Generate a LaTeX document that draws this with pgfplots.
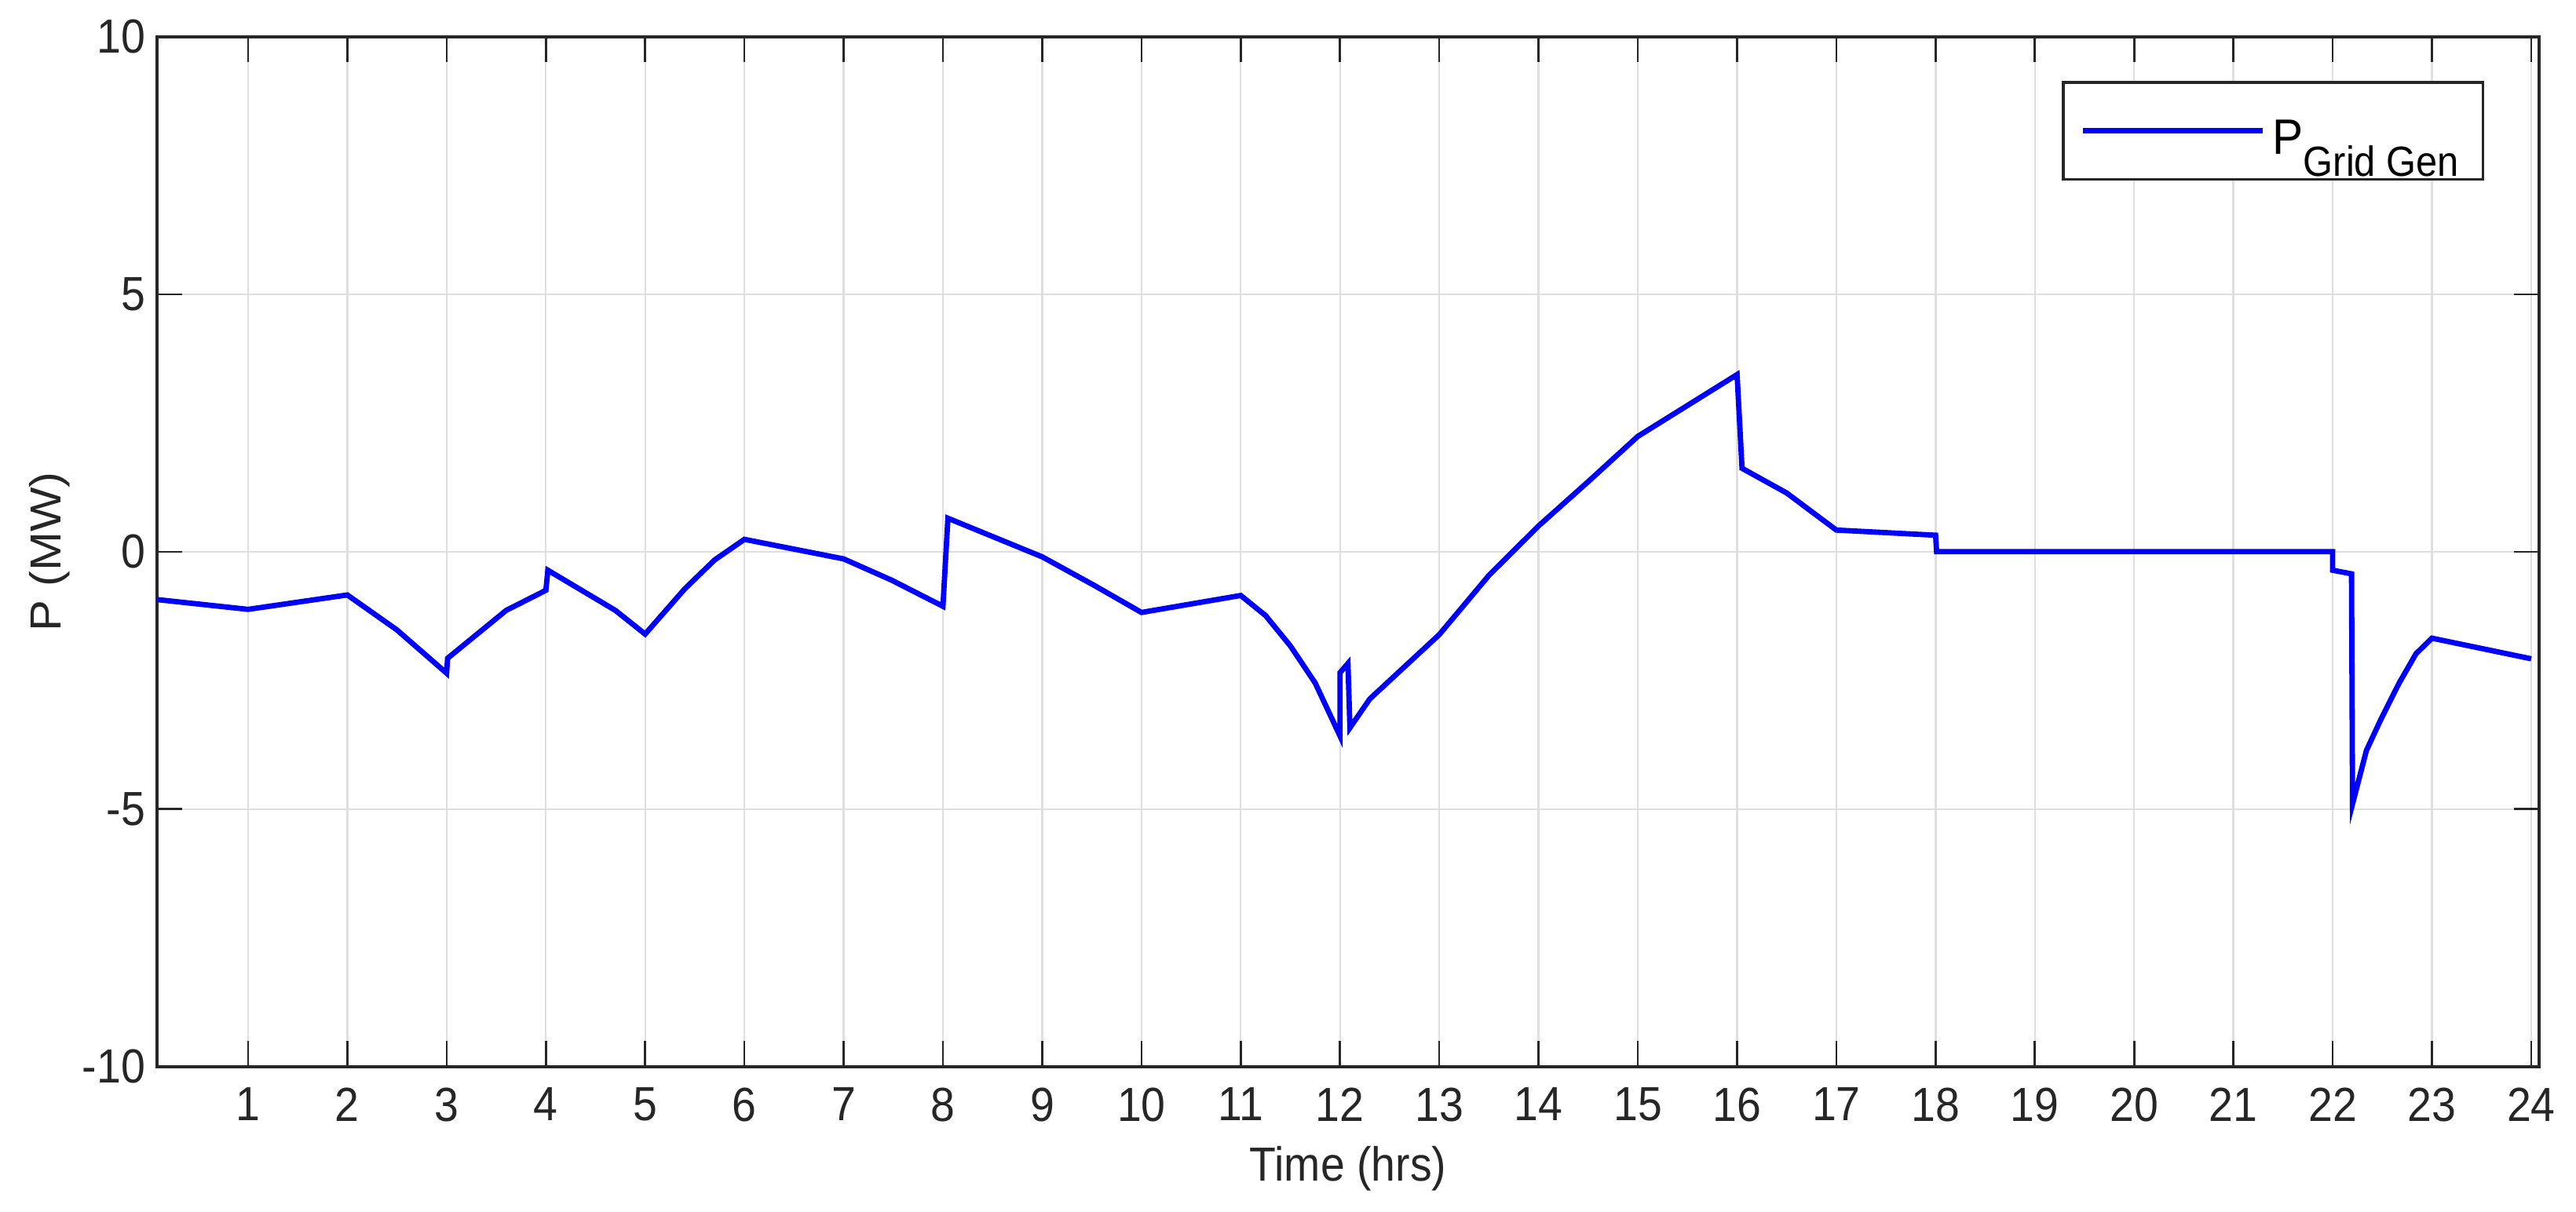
\documentclass[border=0pt]{standalone}
\usepackage{fontspec}
\setmainfont{Liberation Sans}
\usepackage{graphicx}
\usepackage{pgfplots}
\pgfplotsset{compat=1.18}
\begin{document}
\fontsize{12}{14}\selectfont
\begin{tikzpicture}
\begin{axis}[
  width=646pt, height=279.3pt, scale only axis,
  xmin=0.0833, xmax=24.08, ymin=-10, ymax=10,
  xtick={1,2,...,24}, ytick={-10,-5,0,5,10},
  /pgf/number format/assume math mode=true,
  tick label style={font=\fontsize{11.8}{14}\selectfont, text=black!85},
  xticklabel={\scalebox{1}[1.1]{\pgfmathprintnumber{\tick}}},
  yticklabel={\scalebox{1}[1.1]{\pgfmathprintnumber{\tick}}},
  xticklabel style={yshift=-1.5pt},
  yticklabel style={xshift=1pt},
  label style={font=\fontsize{11.8}{14}\selectfont, text=black!85},
  xlabel={\scalebox{1}[1.1]{Time (hrs)}}, ylabel={\scalebox{1.08}[1]{P (MW)}},
  xlabel style={at={(axis description cs:0.5,-0.1113)}, anchor=base},
  ylabel style={at={(axis description cs:-0.0452,0.5)}, anchor=center},
  grid=major, major grid style={gray!25, line width=0.5pt},
  tick align=inside, major tick length=6.9pt,
  tick style={black!85, line width=0.55pt},
  axis line style={black!85, line width=0.85pt},
  xtick pos=both, ytick pos=both,
  legend style={at={(axis description cs:0.977,0.957)}, anchor=north east,
    draw=black!85, line width=0.75pt,
    font=\fontsize{12.5}{14}\selectfont, text=black,
    inner xsep=4.5pt, inner ysep=3pt,
    /tikz/every even column/.append style={column sep=2pt}},
  legend cell align=left,
  legend image code/.code={\draw[#1, line width=1.5pt] (0pt,0pt) -- (48.8pt,0pt);},
]
\addplot[blue, line width=1.45pt] coordinates {
(0.0833,-0.93) (1,-1.12) (2,-0.84) (2.5,-1.52) (3,-2.36) (3.01,-2.07)
(3.6,-1.14) (4,-0.75) (4.02,-0.36) (4.7,-1.14) (5,-1.6) (5.4,-0.72)
(5.7,-0.16) (6,0.24) (7,-0.14) (7.48,-0.55) (8,-1.06) (8.05,0.65)
(9,-0.1) (9.52,-0.65) (10,-1.18) (11,-0.85) (11.25,-1.24) (11.5,-1.83)
(11.75,-2.55) (12,-3.58) (12.0,-2.35) (12.08,-2.17) (12.1,-3.42)
(12.3,-2.86) (13,-1.61) (13.5,-0.46) (14,0.5) (14.5,1.36) (15,2.24)
(16,3.44) (16.05,1.62) (16.5,1.14) (17,0.42) (18,0.32) (18.01,0)
(22,0) (22.0,-0.36) (22.19,-0.43) (22.2,-4.9) (22.34,-3.86) (22.49,-3.24)
(22.67,-2.55) (22.84,-1.98) (23,-1.68) (24,-2.08)
};
\addlegendentry{\rule[-9pt]{0pt}{23.5pt}\scalebox{1}[1.08]{P}\raisebox{-6pt}{\fontsize{10.4}{12}\selectfont\scalebox{1}[1.1]{Grid Gen}}}
\end{axis}
\path ([xshift=-42.6pt,yshift=-39.4pt]current axis.south west) rectangle ([xshift=10pt,yshift=10pt]current axis.north east);
\end{tikzpicture}
\end{document}
